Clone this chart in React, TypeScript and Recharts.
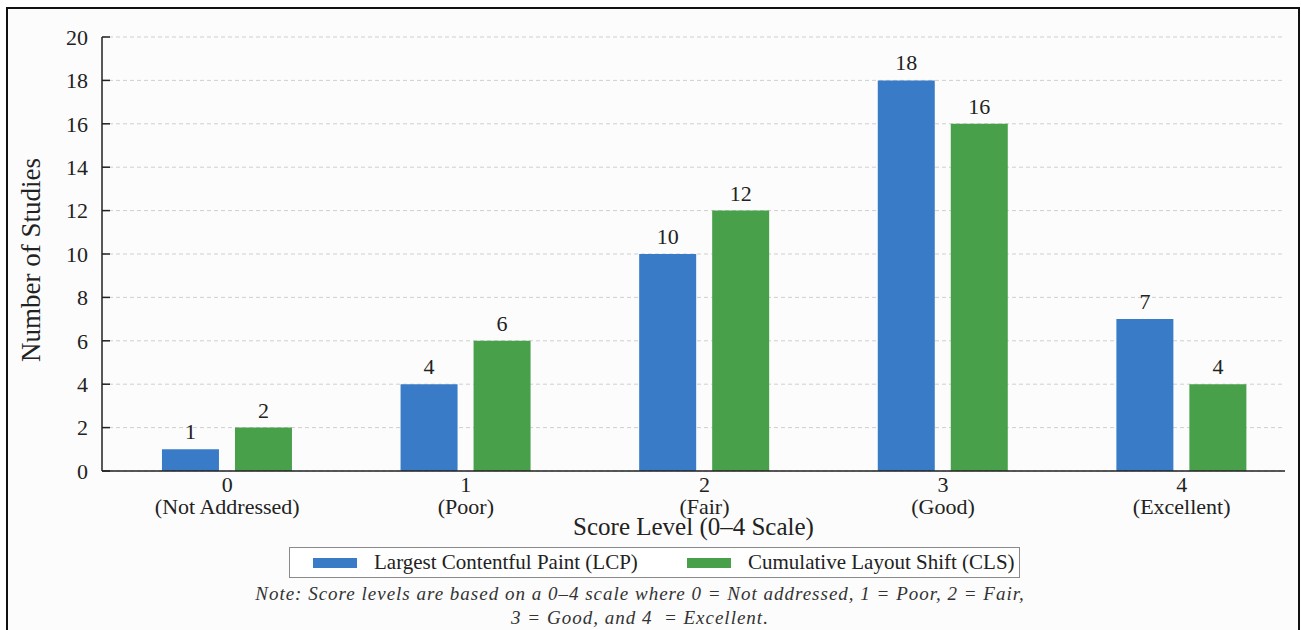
import { Bar, BarChart, CartesianGrid, LabelList, XAxis, YAxis } from "recharts"

const scoreLevels = [0, 1, 2, 3, 4]
const scoreNames = ["(Not Addressed)", "(Poor)", "(Fair)", "(Good)", "(Excellent)"]
const lcpCounts = [1, 4, 10, 18, 7]
const clsCounts = [2, 6, 12, 16, 4]
const yTicks = [0, 2, 4, 6, 8, 10, 12, 14, 16, 18, 20]
const seriesNames = ["Largest Contentful Paint (LCP)", "Cumulative Layout Shift (CLS)"]
const noteLines = [
  "Note: Score levels are based on a 0\u20134 scale where 0 = Not addressed, 1 = Poor, 2 = Fair,",
  "3 = Good, and 4  = Excellent.",
]

const BLUE = "#3a7bc8"
const GREEN = "#48a04a"
const FONT = '"Liberation Serif", "Times New Roman", serif'

const chartData = scoreLevels.map((score, i) => ({
  score,
  lcp: lcpCounts[i],
  cls: clsCounts[i],
}))

function CategoryTick(props: any) {
  const { x, y, payload } = props
  const i = scoreLevels.indexOf(payload.value)
  return (
    <g fontFamily={FONT} fontSize={22} fill="#222">
      <text x={x} y={y + 21} textAnchor="middle">
        {payload.value}
      </text>
      <text x={x} y={y + 43} textAnchor="middle">
        {scoreNames[i]}
      </text>
    </g>
  )
}

export default function App() {
  return (
    <div
      style={{
        position: "absolute",
        left: 0,
        top: 0,
        width: 1301,
        height: 630,
        background: "#fff",
        overflow: "hidden",
        fontFamily: FONT,
      }}
    >
      <div
        style={{
          position: "absolute",
          left: 6,
          top: 7,
          width: 1290,
          height: 640,
          borderLeft: "2px solid #111",
          borderTop: "2px solid #111",
          borderRight: "2px solid #111",
          background: "#fcfcfc",
        }}
      />
      <div style={{ position: "absolute", left: 0, top: 0 }}>
        <BarChart
          width={1301}
          height={630}
          data={chartData}
          margin={{ top: 37, right: 16, bottom: 95, left: 0 }}
          barGap={16}
          barSize={57}
        >
          <CartesianGrid
            vertical={false}
            stroke="#cfcfcf"
            strokeDasharray="4 3"
          />
          <XAxis
            dataKey="score"
            type="number"
            domain={[-0.525, 4.433]}
            ticks={scoreLevels}
            allowDataOverflow
            height={64}
            tickLine={false}
            tickSize={0}
            tickMargin={0}
            tick={<CategoryTick />}
            axisLine={{ stroke: "#222", strokeWidth: 1.5 }}
            label={{
              value: "Score Level (0\u20134 Scale)",
              position: "insideBottom",
              offset: 0,
              style: { fontFamily: FONT, fontSize: 25, fill: "#222" },
            }}
          />
          <YAxis
            domain={[0, 20]}
            ticks={yTicks}
            width={102}
            tickSize={-8}
            tickMargin={22}
            tick={{ fontFamily: FONT, fontSize: 22, fill: "#222" }}
            tickLine={{ stroke: "#222", strokeWidth: 1.5 }}
            axisLine={{ stroke: "#222", strokeWidth: 1.5 }}
            label={{
              value: "Number of Studies",
              angle: -90,
              position: "insideLeft",
              offset: 30,
              dy: 6,
              style: { textAnchor: "middle", fontFamily: FONT, fontSize: 27, fill: "#222" },
            }}
          />
          <Bar dataKey="lcp" name={seriesNames[0]} fill={BLUE} isAnimationActive={false}>
            <LabelList
              dataKey="lcp"
              position="top"
              offset={10}
              style={{ fontFamily: FONT, fontSize: 22, fill: "#222" }}
            />
          </Bar>
          <Bar dataKey="cls" name={seriesNames[1]} fill={GREEN} isAnimationActive={false}>
            <LabelList
              dataKey="cls"
              position="top"
              offset={10}
              style={{ fontFamily: FONT, fontSize: 22, fill: "#222" }}
            />
          </Bar>
        </BarChart>
      </div>
      <div
        style={{
          position: "absolute",
          left: 289,
          top: 547,
          width: 729,
          height: 29,
          border: "1px solid #8a8a8a",
          background: "#fff",
          fontSize: 21,
          color: "#222",
        }}
      >
        {seriesNames.map((name, i) => (
          <div
            key={name}
            style={{
              position: "absolute",
              left: i === 0 ? 23 : 397,
              top: 0,
              height: 29,
              display: "flex",
              alignItems: "center",
              whiteSpace: "nowrap",
            }}
          >
            <span
              style={{
                display: "inline-block",
                width: 44,
                height: 10,
                background: i === 0 ? BLUE : GREEN,
                marginRight: 17,
              }}
            />
            {name}
          </div>
        ))}
      </div>
      <div
        style={{
          position: "absolute",
          left: 0,
          top: 582,
          width: 1280,
          textAlign: "center",
          fontStyle: "italic",
          fontSize: 19,
          letterSpacing: 1,
          lineHeight: "24px",
          color: "#333",
        }}
      >
        {noteLines.map((line) => (
          <div key={line} style={{ whiteSpace: "pre" }}>
            {line}
          </div>
        ))}
      </div>
    </div>
  )
}
